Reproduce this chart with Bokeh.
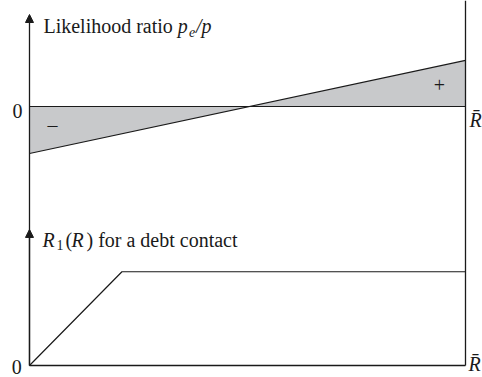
import numpy as np
from bokeh.plotting import figure
from bokeh.models import Range1d, Arrow, NormalHead
from bokeh.core.properties import value
from bokeh.embed import file_html
from bokeh.resources import INLINE

# Returns R on [0, R_bar], with R_bar normalised to 1
R_BAR = 1.0
r_lr = [0.0, R_BAR]
# Likelihood ratio p_e/p (relative to zero line) at the two ends
lr = [-1.0, 0.98]
# Debt contract repayment R1(R): rises one-for-one, then capped
r_debt = [0.0, 0.212, R_BAR]
r1_debt = [0.0, 0.215, 0.215]

SERIF = value("'Liberation Serif', 'Times New Roman', Times, serif")
INK = "#1a1a1a"
SHADE = "#c8c9cb"

p = figure(width=482, height=377, output_backend="svg", toolbar_location=None,
           x_range=Range1d(-0.0665, 1.039), y_range=Range1d(-5.766, 2.255),
           min_border=0, outline_line_color=None)
p.extra_y_ranges = {"payoff": Range1d(-0.0275, 0.837)}
p.axis.visible = False
p.grid.visible = False
p.background_fill_color = "white"
p.border_fill_color = "white"

# --- upper panel: likelihood ratio ---------------------------------------
x_cross = float(np.interp(0.0, lr, r_lr))
x_fill = [r_lr[0], x_cross, r_lr[1]]
y_fill = [lr[0], 0.0, lr[1]]
p.varea(x=x_fill, y1=[0, 0, 0], y2=y_fill, fill_color=SHADE)
p.line(r_lr, lr, line_color=INK, line_width=1.2)
p.line([0, R_BAR], [0, 0], line_color=INK, line_width=1.2)

# --- lower panel: debt contract payoff -----------------------------------
p.line(r_debt, r1_debt, line_color=INK, line_width=1.2, y_range_name="payoff")
p.line([0, R_BAR], [0, 0], line_color=INK, line_width=1.3, y_range_name="payoff")
p.line([R_BAR, R_BAR], [0, 0.837], line_color=INK, line_width=1.3, y_range_name="payoff")

# vertical axes with arrow heads
p.add_layout(Arrow(end=NormalHead(size=8, fill_color=INK, line_color=INK, line_width=1),
                   x_start=0, y_start=-5.511, x_end=0, y_end=1.957,
                   line_color=INK, line_width=1.3))
p.add_layout(Arrow(end=NormalHead(size=8, fill_color=INK, line_color=INK, line_width=1),
                   x_start=0, y_start=0, x_end=0, y_end=0.312,
                   line_color=INK, line_width=1.3, y_range_name="payoff"))


def txt(x, y, s, size="20px", style="normal", align="left", base="alphabetic", rng="default"):
    p.text(x=[x], y=[y], text=[s], text_font=SERIF, text_font_size=size,
           text_font_style=style, text_align=align, text_baseline=base,
           text_color=INK, y_range_name=rng)


# upper axis title: Likelihood ratio p_e/p
txt(0.032, 1.709, "Likelihood ratio")
txt(0.340, 1.709, "p", style="italic")
txt(0.366, 1.585, "e", size="14px", style="italic")
txt(0.382, 1.709, "/p", style="italic")
txt(-0.016, -0.106, "0", align="right")
txt(1.0092, -0.277, "R\u0304", style="italic")
txt(0.053, -0.404, "\u2013", base="middle", align="center")
txt(0.940, 0.447, "+", base="middle", align="center")

# lower axis title: R1(R) for a debt contact
txt(0.0298, 0.2883, "R", style="italic", rng="payoff")
txt(0.0619, 0.2752, "1", size="14px", rng="payoff")
txt(0.0826, 0.2883, "(", rng="payoff")
txt(0.0963, 0.2883, "R", style="italic", rng="payoff")
txt(0.1307, 0.2883, ") for a debt contact", rng="payoff")
txt(-0.018, -0.0023, "0", align="right", rng="payoff")
txt(1.0069, 0.0046, "R\u0304", style="italic", rng="payoff")

open("out.html", "w").write(file_html(p, INLINE))
